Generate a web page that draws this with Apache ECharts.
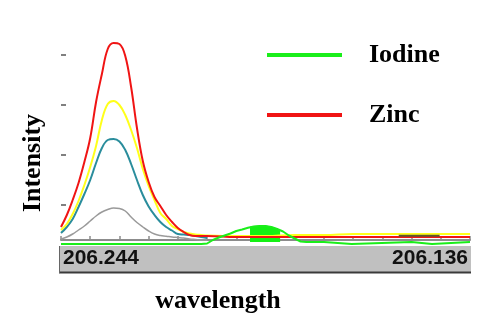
<!DOCTYPE html>
<html>
<head>
<meta charset="utf-8">
<script src="https://cdn.jsdelivr.net/npm/echarts@6/dist/echarts.min.js"></script>
<style>
html,body{margin:0;padding:0;background:#fff;}
#chart{width:501px;height:323px;}
</style>
</head>
<body>
<div id="chart"></div>
<script>
// ---- data (x in axis units 0..140, left = 206.244, right = 206.136) ----
const xPeak = [0,2,4,6,8,10,12,14,16,18,20,22,24,26,28,30,32,34,36,38,40,42,44,46,48,50,60,70,80,90,100,110,120,130,140];
const zinc   = [13,25,40,57,78,102,138,166,191,197,196,184,153,112,79,58,43,34,25,18,12,8,5,4,4,4,3,3,3,3,3,3,3,3,3];
const sampleA = [10,16,26,39,55,73,94,120,136,139,135,125,110,92,71,54,40,27,21,14,11,8,6.5,5.5,5,4.5,4,4,5,5,6,6,6,6,6];
const sampleB = [7,13,21,33,46,60,77,92,100,101,98.5,90,76,60,45,33.5,25,18,13,9.5,6,5.5,5,4,3,2];
const sampleC = [1,3,6,10,14,19,24,28,30.5,32,31.5,29,23,17.5,13,9,6,4.5,3.8,3,2.5,2,1,0.5,0,0];

const xIodine = [0,48,50,52,54,56,58,60,62,64,66,68,70,72,74,76,78,80,82,84,90,90.5,99.5,100,120,120.5,127,127.5,140];
const iodine  = [-4,-4,-3.5,0,2.5,4.5,6.5,9,10.5,12.3,13.5,14,14,13,11,8.5,4.5,1.5,-1.5,-2,-2,-4,-4,-2,-2,-4,-4,-2,-2];
const xIodineFill = [64.7,66,68,70,72,74,75];
const iodineFill  = [12.8,13.5,14,14,13,11,9.8];

const xSegment = [115.6,129.6];
const segment  = [4.3,4.3];

const yTicks = [35,85,135,185];
const xEndLabels = ['206.244','206.136'];
const legendNames = ['Iodine','Zinc'];
const xTitle = 'wavelength';
const yTitle = 'Intensity';

const zip = (xs, ys) => ys.map((v, i) => [xs[i], v]);

const chart = echarts.init(document.getElementById('chart'), null, {renderer: 'canvas'});
const serif = '"Liberation Serif","Times New Roman",serif';
const sans = '"Liberation Sans",Arial,sans-serif';

chart.setOption({
  animation: false,
  backgroundColor: '#ffffff',
  grid: {left: 61, right: 31, top: 34, bottom: 77, containLabel: false},
  xAxis: {
    type: 'value', min: 0, max: 140, interval: 10,
    axisLine: {show: true, onZero: true, lineStyle: {color: '#8c8c8c', width: 2}},
    axisTick: {show: true, inside: true, length: 4, lineStyle: {color: '#8c8c8c', width: 1.5}},
    axisLabel: {show: false},
    splitLine: {show: false}
  },
  yAxis: {
    type: 'value', min: -6, max: 206,
    axisLine: {show: false},
    axisTick: {show: true, inside: true, length: 5, customValues: yTicks, lineStyle: {color: '#808080', width: 2}},
    axisLabel: {show: false, customValues: yTicks},
    splitLine: {show: false}
  },
  legend: {
    data: legendNames,
    orient: 'vertical',
    left: 262, top: 37,
    itemWidth: 75, itemHeight: 4, itemGap: 34,
    icon: 'rect',
    selectedMode: false,
    textStyle: {fontFamily: serif, fontWeight: 'bold', fontSize: 26, color: '#000', lineHeight: 26, padding: [0,0,0,22]}
  },
  series: [
    {name: 'Sample C', type: 'line', data: zip(xPeak, sampleC), smooth: 0.4, showSymbol: false, lineStyle: {color: '#9a9a9a', width: 1.5}, itemStyle: {color: '#9a9a9a'}},
    {name: 'Sample B', type: 'line', data: zip(xPeak, sampleB), smooth: 0.4, showSymbol: false, lineStyle: {color: '#2a8d9c', width: 2}, itemStyle: {color: '#2a8d9c'}},
    {name: 'Sample A', type: 'line', data: zip(xPeak, sampleA), smooth: 0.4, showSymbol: false, lineStyle: {color: '#ffff1a', width: 2}, itemStyle: {color: '#ffff1a'}},
    {name: 'Zinc', type: 'line', data: zip(xPeak, zinc), smooth: 0.4, showSymbol: false, lineStyle: {color: '#f01414', width: 2}, itemStyle: {color: '#f01414'}},
    {name: 'Segment', type: 'line', data: zip(xSegment, segment), showSymbol: false, lineStyle: {color: '#5e5630', width: 2}, itemStyle: {color: '#5e5630'}},
    {name: 'Iodine', type: 'line', data: zip(xIodine, iodine), smooth: false, showSymbol: false, lineStyle: {color: '#1aee1a', width: 2}, itemStyle: {color: '#1aee1a'}},
    {name: 'Iodine fill', type: 'line', data: zip(xIodineFill, iodineFill), smooth: false, showSymbol: false, lineStyle: {color: '#1aee1a', width: 1}, itemStyle: {color: '#1aee1a'}, areaStyle: {color: '#14f014', opacity: 1, origin: -2}}
  ],
  graphic: [
    {type: 'rect', shape: {x: 59, y: 246, width: 412, height: 27}, style: {fill: '#c0c0c0'}, z: 1},
    {type: 'line', shape: {x1: 59, y1: 272.5, x2: 471, y2: 272.5}, style: {stroke: '#3a3a3a', lineWidth: 2}, z: 2},
    {type: 'line', shape: {x1: 59.5, y1: 246, x2: 59.5, y2: 273}, style: {stroke: '#666666', lineWidth: 1}, z: 2},
    {type: 'text', x: 63, y: 258.5, style: {text: xEndLabels[0], font: 'bold 21px ' + sans, fill: '#111', textAlign: 'left', textVerticalAlign: 'middle'}, z: 3},
    {type: 'text', x: 468, y: 258.5, style: {text: xEndLabels[1], font: 'bold 21px ' + sans, fill: '#111', textAlign: 'right', textVerticalAlign: 'middle'}, z: 3},
    {type: 'text', x: 218, y: 301, style: {text: xTitle, font: 'bold 26px ' + serif, fill: '#000', textAlign: 'center', textVerticalAlign: 'middle'}, z: 3},
    {type: 'text', x: 33, y: 163, rotation: Math.PI / 2, style: {text: yTitle, font: 'bold 26px ' + serif, fill: '#000', textAlign: 'center', textVerticalAlign: 'middle'}, z: 3}
  ]
});
</script>
</body>
</html>
